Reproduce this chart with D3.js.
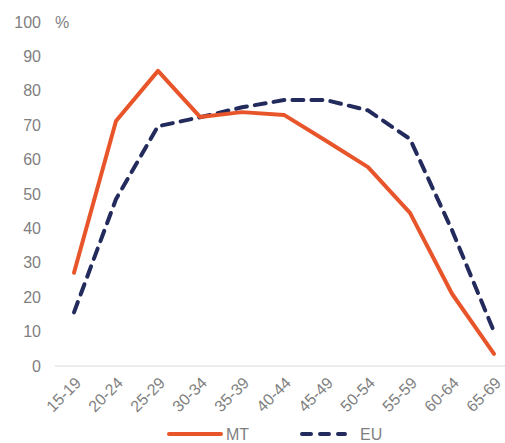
<!DOCTYPE html>
<html><head><meta charset="utf-8">
<script src="https://cdn.jsdelivr.net/npm/d3@7"></script>
<style>body{margin:0;background:#fff}svg{display:block}</style>
</head><body><script>
const categories=["15-19","20-24","25-29","30-34","35-39","40-44","45-49","50-54","55-59","60-64","65-69"];
const mtValues=[27.1,71.2,85.8,72.4,73.8,73.0,65.5,57.8,44.5,21.0,3.5];
const euValues=[15.6,48.5,69.7,72.3,75.2,77.3,77.3,74.3,66.0,39.5,10.0];
const yTicks=[0,10,20,30,40,50,60,70,80,90,100];
const W=505,H=443;
const svg=d3.select("body").append("svg").attr("width",W).attr("height",H);
const x=d3.scalePoint().domain(categories).range([74,494]);
const y=d3.scaleLinear().domain([0,100]).range([366,22]);
const font="Arial, 'Liberation Sans', sans-serif";
const grey="#7f7f7f";
svg.append("g").selectAll("text").data(yTicks).join("text")
 .attr("x",41).attr("y",d=>y(d)).attr("dy","0.35em").attr("text-anchor","end")
 .attr("font-family",font).attr("font-size",16).attr("fill",grey).text(d=>d);
svg.append("text").attr("x",55).attr("y",y(100)).attr("dy","0.35em")
 .attr("font-family",font).attr("font-size",16).attr("fill",grey).text("%");
svg.append("line").attr("x1",55).attr("x2",505).attr("y1",y(0)).attr("y2",y(0))
 .attr("stroke","#d9d9d9").attr("stroke-width",1);
svg.append("g").selectAll("text").data(categories).join("text")
 .attr("transform",d=>`translate(${x(d)+4},${y(0)+14}) rotate(-45)`)
 .attr("text-anchor","end").attr("dy","0.35em")
 .attr("font-family",font).attr("font-size",16).attr("fill",grey).text(d=>d);
const line=d3.line().x((d,i)=>x(categories[i])).y(d=>y(d));
svg.append("path").datum(euValues).attr("d",line).attr("fill","none")
 .attr("stroke","#232a5c").attr("stroke-width",4).attr("stroke-dasharray","11,8").attr("stroke-linecap","round");
svg.append("path").datum(mtValues).attr("d",line).attr("fill","none")
 .attr("stroke","#e9552a").attr("stroke-width",4).attr("stroke-linejoin","round").attr("stroke-linecap","round");
const ly=434;
svg.append("line").attr("x1",169).attr("x2",221).attr("y1",ly).attr("y2",ly)
 .attr("stroke","#e9552a").attr("stroke-width",4).attr("stroke-linecap","round");
svg.append("text").attr("x",226).attr("y",ly).attr("dy","0.35em")
 .attr("font-family",font).attr("font-size",16).attr("fill",grey).text("MT");
svg.append("line").attr("x1",302).attr("x2",345).attr("y1",ly).attr("y2",ly)
 .attr("stroke","#232a5c").attr("stroke-width",4).attr("stroke-dasharray","9,9").attr("stroke-linecap","round");
svg.append("text").attr("x",360).attr("y",ly).attr("dy","0.35em")
 .attr("font-family",font).attr("font-size",16).attr("fill",grey).text("EU");
</script></body></html>
